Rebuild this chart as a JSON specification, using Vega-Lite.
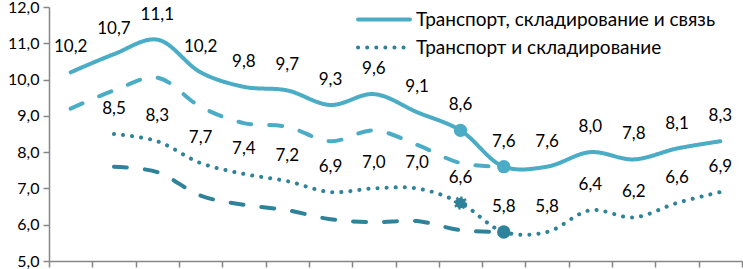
{
  "$schema": "https://vega.github.io/schema/vega-lite/v6.json",
  "width": 693,
  "height": 254,
  "autosize": {"type": "none"},
  "padding": {"left": 49, "top": 7, "right": 1, "bottom": 8},
  "config": {
    "view": {"stroke": null},
    "locale": {"number": {"decimal": ",", "thousands": " ", "grouping": [3], "currency": ["", ""]}},
    "font": "Lato"
  },
  "datasets": {
    "main": [
      {"series": "Транспорт, складирование и связь", "i": 0, "v": 10.2},
      {"series": "Транспорт, складирование и связь", "i": 1, "v": 10.7},
      {"series": "Транспорт, складирование и связь", "i": 2, "v": 11.1},
      {"series": "Транспорт, складирование и связь", "i": 3, "v": 10.2},
      {"series": "Транспорт, складирование и связь", "i": 4, "v": 9.8},
      {"series": "Транспорт, складирование и связь", "i": 5, "v": 9.7},
      {"series": "Транспорт, складирование и связь", "i": 6, "v": 9.3},
      {"series": "Транспорт, складирование и связь", "i": 7, "v": 9.6},
      {"series": "Транспорт, складирование и связь", "i": 8, "v": 9.1},
      {"series": "Транспорт, складирование и связь", "i": 9, "v": 8.6},
      {"series": "Транспорт, складирование и связь", "i": 10, "v": 7.6},
      {"series": "Транспорт, складирование и связь", "i": 11, "v": 7.6},
      {"series": "Транспорт, складирование и связь", "i": 12, "v": 8.0},
      {"series": "Транспорт, складирование и связь", "i": 13, "v": 7.8},
      {"series": "Транспорт, складирование и связь", "i": 14, "v": 8.1},
      {"series": "Транспорт, складирование и связь", "i": 15, "v": 8.3},
      {"series": "Транспорт и складирование", "i": 1, "v": 8.5},
      {"series": "Транспорт и складирование", "i": 2, "v": 8.3},
      {"series": "Транспорт и складирование", "i": 3, "v": 7.7},
      {"series": "Транспорт и складирование", "i": 4, "v": 7.4},
      {"series": "Транспорт и складирование", "i": 5, "v": 7.2},
      {"series": "Транспорт и складирование", "i": 6, "v": 6.9},
      {"series": "Транспорт и складирование", "i": 7, "v": 7.0},
      {"series": "Транспорт и складирование", "i": 8, "v": 7.0},
      {"series": "Транспорт и складирование", "i": 9, "v": 6.6},
      {"series": "Транспорт и складирование", "i": 10, "v": 5.8},
      {"series": "Транспорт и складирование", "i": 11, "v": 5.8},
      {"series": "Транспорт и складирование", "i": 12, "v": 6.4},
      {"series": "Транспорт и складирование", "i": 13, "v": 6.2},
      {"series": "Транспорт и складирование", "i": 14, "v": 6.6},
      {"series": "Транспорт и складирование", "i": 15, "v": 6.9}
    ],
    "upper": [
      {"i": 0, "v": 9.2}, {"i": 1, "v": 9.7}, {"i": 2, "v": 10.05}, {"i": 3, "v": 9.25},
      {"i": 4, "v": 8.8}, {"i": 5, "v": 8.7}, {"i": 6, "v": 8.3}, {"i": 7, "v": 8.6},
      {"i": 8, "v": 8.2}, {"i": 9, "v": 7.7}, {"i": 10, "v": 7.6}
    ],
    "lower": [
      {"i": 1, "v": 7.6}, {"i": 2, "v": 7.45}, {"i": 3, "v": 6.8}, {"i": 4, "v": 6.55},
      {"i": 5, "v": 6.4}, {"i": 6, "v": 6.15}, {"i": 7, "v": 6.07}, {"i": 8, "v": 6.1},
      {"i": 9, "v": 5.85}, {"i": 10, "v": 5.8}
    ]
  },
  "encoding": {
    "x": {
      "field": "i", "type": "ordinal", "bandPosition": 0.5,
      "scale": {"type": "band", "domain": [0,1,2,3,4,5,6,7,8,9,10,11,12,13,14,15], "paddingInner": 0, "paddingOuter": 0},
      "axis": {"title": null, "labels": false, "ticks": true, "tickBand": "extent", "tickSize": 6, "tickColor": "#868686", "domainColor": "#868686", "domainWidth": 1.5, "tickWidth": 1.5}
    },
    "y": {
      "field": "v", "type": "quantitative",
      "scale": {"domain": [5, 12], "nice": false, "zero": false},
      "axis": {"title": null, "values": [5,6,7,8,9,10,11,12], "format": ".1f", "grid": false, "tickSize": 6, "tickColor": "#868686", "domainColor": "#868686", "domainWidth": 1.5, "tickWidth": 1.5, "labelFontSize": 16, "labelColor": "#000000", "labelPadding": 4, "labelFont": "Lato"}
    }
  },
  "layer": [
    {
      "data": {"name": "upper"},
      "mark": {"type": "line", "interpolate": "catmull-rom", "color": "#4BACC6", "strokeWidth": 4, "strokeCap": "round", "strokeDash": [13, 18]}
    },
    {
      "data": {"name": "lower"},
      "mark": {"type": "line", "interpolate": "catmull-rom", "color": "#2E8299", "strokeWidth": 4, "strokeCap": "round", "strokeDash": [13, 18]}
    },
    {
      "data": {"name": "main"},
      "mark": {"type": "line", "interpolate": "catmull-rom", "strokeWidth": 4, "strokeCap": "round"},
      "encoding": {
        "color": {
          "field": "series", "type": "nominal",
          "scale": {"domain": ["Транспорт, складирование и связь", "Транспорт и складирование"], "range": ["#4BACC6", "#2E8299"]},
          "legend": {"title": null, "orient": "none", "legendX": 307, "legendY": 4, "symbolType": "stroke", "symbolSize": 2700, "clipHeight": 17, "symbolStrokeWidth": 4, "labelFontSize": 19, "labelFont": "Lato", "labelColor": "#000000", "rowPadding": 8, "labelOffset": 4, "labelLimit": 400, "encode": {"symbols": {"update": {"strokeCap": {"value": "round"}}}}}
        },
        "strokeDash": {
          "field": "series", "type": "nominal",
          "scale": {"domain": ["Транспорт, складирование и связь", "Транспорт и складирование"], "range": [[1, 0], [0.1, 9]]},
          "legend": {"title": null, "orient": "none", "legendX": 307, "legendY": 4, "symbolType": "stroke", "symbolSize": 2700, "clipHeight": 17, "symbolStrokeWidth": 4, "labelFontSize": 19, "labelFont": "Lato", "labelColor": "#000000", "rowPadding": 8, "labelOffset": 4, "labelLimit": 400, "encode": {"symbols": {"update": {"strokeCap": {"value": "round"}}}}}
        }
      }
    },
    {
      "data": {"name": "main"},
      "transform": [{"filter": "datum.series == 'Транспорт, складирование и связь' && (datum.i == 9 || datum.i == 10)"}],
      "mark": {"type": "point", "shape": "circle", "filled": true, "size": 180, "color": "#4BACC6", "opacity": 1}
    },
    {
      "data": {"name": "main"},
      "transform": [{"filter": "datum.series == 'Транспорт и складирование' && datum.i == 9"}],
      "mark": {"type": "point", "shape": "circle", "filled": true, "size": 110, "fill": "#2E8299", "stroke": "#2E8299", "strokeWidth": 3, "strokeDash": [2, 2], "opacity": 1}
    },
    {
      "data": {"name": "lower"},
      "transform": [{"filter": "datum.i == 10"}],
      "mark": {"type": "point", "shape": "circle", "filled": true, "size": 180, "color": "#2E8299", "opacity": 1}
    },
    {
      "data": {"name": "main"},
      "mark": {"type": "text", "dy": -25, "fontSize": 17, "font": "Lato", "color": "#000000", "baseline": "middle", "align": "center"},
      "encoding": {
        "text": {"field": "v", "type": "quantitative", "format": ".1f"}
      }
    }
  ]
}
